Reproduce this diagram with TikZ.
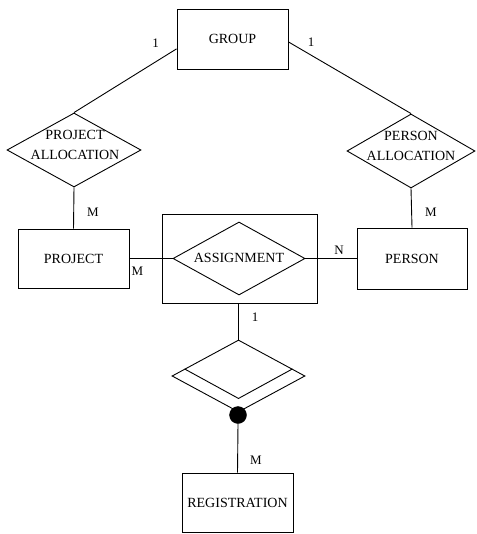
\documentclass[tikz,border=0pt]{standalone}
\usepackage{fontspec}
\setmainfont{Liberation Serif}
\usetikzlibrary{shapes.geometric,calc}
\begin{document}
\begin{tikzpicture}[x=1pt,y=-1pt,
  every node/.style={font=\fontsize{14}{20}\selectfont},
  entity/.style={draw,rectangle,inner sep=0pt,line width=0.9pt},
  rel/.style={draw,diamond,inner sep=0pt,line width=0.9pt},
  reltext/.style={inner sep=0pt,align=center},
  conn/.style={line width=0.9pt},
  card/.style={font=\fontsize{13}{15}\selectfont,inner sep=0pt}]
\useasboundingbox (0,0) rectangle (476,534);

% entities
\node[entity,minimum width=111,minimum height=60] (grp) at (232.5,39) {GROUP};
\node[entity,minimum width=111,minimum height=59] (proj) at (73.5,258.5) {PROJECT};
\node[entity,minimum width=110,minimum height=61] (pers) at (412,258.5) {PERSON};
\node[entity,minimum width=111,minimum height=59] (reg) at (237.5,502.5) {REGISTRATION};

% aggregation box around the assignment relationship
\node[entity,minimum width=155,minimum height=89] (agg) at (239.5,258.5) {};

% relationships
\node[rel,minimum width=134,minimum height=74] (pa) at (74,150) {};
\node[reltext] at (75,145) {PROJECT\\ALLOCATION};
\node[rel,minimum width=128,minimum height=74] (pea) at (411,151) {};
\node[reltext] at (411,146) {PERSON\\ALLOCATION};
\node[rel,minimum width=132,minimum height=73] (asg) at (239,258.5) {};
\node[reltext] at (239,258) {ASSIGNMENT};

% weak relationship with doubled lower edges
\node[rel,minimum width=133,minimum height=72] (wk) at (238.5,376) {};
\coordinate (wkl) at ($(wk.west)!0.194!(wk.north)$);
\coordinate (wkr) at ($(wk.east)!0.194!(wk.north)$);
\coordinate (wkb) at ($(wk.south)+(0,-14)$);
\draw[conn] (wkl) -- (wkb) -- (wkr);
\node[circle,fill=black,draw=black,inner sep=0pt,minimum size=17] (dot) at (238,415) {};

% connectors
\draw[conn] (grp.190) -- (pa.north);
\draw[conn] (grp.-3) -- (pea.north);
\draw[conn] (pa.south) -- (proj.north);
\draw[conn] (pea.south) -- (pers.north);
\draw[conn] (proj.east) -- (asg.west);
\draw[conn] (asg.east) -- (pers.west);
\draw[conn] (wk.north |- agg.south) -- (wk.north);
\draw[conn] (dot.south) -- (reg.north);

% cardinalities
\node[card] at (155.5,43) {1};
\node[card] at (311,42) {1};
\node[card] at (93,212) {M};
\node[card] at (431,212) {M};
\node[card] at (137.5,271) {M};
\node[card] at (339,250) {N};
\node[card] at (255,317) {1};
\node[card] at (256,460) {M};
\end{tikzpicture}
\end{document}
